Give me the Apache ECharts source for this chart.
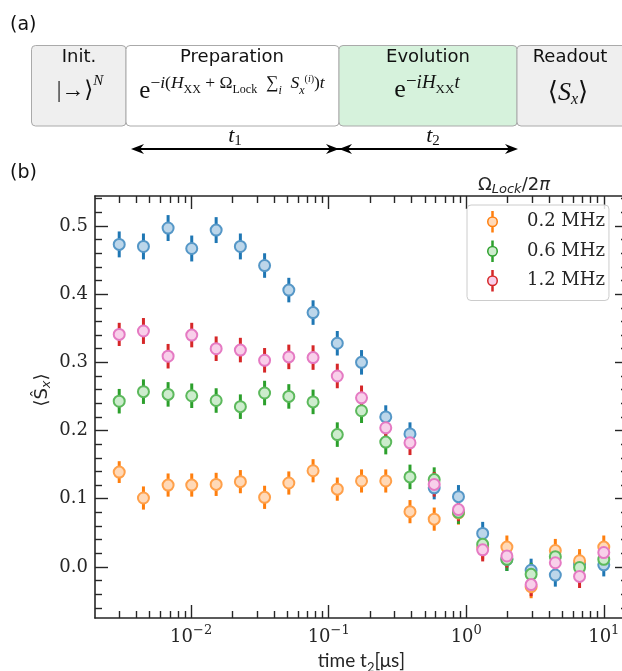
<!DOCTYPE html>
<html>
<head>
<meta charset="utf-8">
<script src="https://cdn.jsdelivr.net/npm/echarts@6/dist/echarts.min.js"></script>
<style>
html,body{margin:0;padding:0;background:#fff;}
#chart{width:622px;height:671px;}
</style>
</head>
<body>
<div id="chart"></div>
<script>
// ---- data ----
const tValues = [0.003, 0.0045, 0.0068, 0.0101, 0.0152, 0.0228, 0.0342, 0.0513, 0.0770, 0.1155, 0.1733,
                 0.260, 0.390, 0.585, 0.878, 1.317, 1.975, 2.963, 4.444, 6.667, 10.0];
const refValues = [0.473, 0.470, 0.497, 0.467, 0.494, 0.470, 0.442, 0.406, 0.373, 0.328, 0.300,
                   0.220, 0.195, 0.116, 0.103, 0.049, 0.011, -0.005, -0.012, 0.004, 0.003];
const refErr = [0.019, 0.019, 0.019, 0.019, 0.019, 0.019, 0.018, 0.018, 0.018, 0.018, 0.018,
                0.017, 0.017, 0.017, 0.017, 0.017, 0.017, 0.017, 0.017, 0.017, 0.017];
const lock02Values = [0.139, 0.101, 0.120, 0.120, 0.121, 0.125, 0.102, 0.123, 0.141, 0.114, 0.126,
                      0.126, 0.081, 0.070, 0.079, 0.028, 0.029, -0.029, 0.024, 0.009, 0.029];
const lock02Err = [0.016, 0.017, 0.017, 0.017, 0.017, 0.017, 0.017, 0.017, 0.017, 0.017, 0.017,
                   0.017, 0.017, 0.017, 0.017, 0.017, 0.017, 0.017, 0.017, 0.017, 0.017];
const lock06Values = [0.243, 0.257, 0.253, 0.251, 0.244, 0.235, 0.255, 0.250, 0.242, 0.194, 0.229,
                      0.183, 0.132, 0.128, 0.080, 0.033, 0.011, -0.011, 0.015, -0.001, 0.011];
const lock06Err = [0.018, 0.018, 0.018, 0.018, 0.018, 0.018, 0.018, 0.018, 0.018, 0.018, 0.018,
                   0.018, 0.018, 0.018, 0.017, 0.017, 0.017, 0.017, 0.017, 0.017, 0.017];
const lock12Values = [0.341, 0.346, 0.309, 0.340, 0.320, 0.318, 0.303, 0.308, 0.307, 0.280, 0.248,
                      0.204, 0.182, 0.121, 0.084, 0.025, 0.016, -0.026, 0.006, -0.014, 0.021];
const lock12Err = [0.017, 0.019, 0.018, 0.018, 0.018, 0.018, 0.018, 0.018, 0.018, 0.018, 0.018,
                   0.018, 0.018, 0.018, 0.017, 0.017, 0.017, 0.017, 0.017, 0.017, 0.017];
const legendNames = ['0.2 MHz', '0.6 MHz', '1.2 MHz'];
const xMajorTicks = [0.01, 0.1, 1, 10];
const xMinorTicks = [0.003, 0.004, 0.005, 0.006, 0.007, 0.008, 0.009,
                     0.02, 0.03, 0.04, 0.05, 0.06, 0.07, 0.08, 0.09,
                     0.2, 0.3, 0.4, 0.5, 0.6, 0.7, 0.8, 0.9,
                     2, 3, 4, 5, 6, 7, 8, 9];
const yMajorTicks = [0, 0.1, 0.2, 0.3, 0.4, 0.5];
const yMinorTicks = [-0.06, -0.04, -0.02, 0.02, 0.04, 0.06, 0.08, 0.12, 0.14, 0.16, 0.18,
                     0.22, 0.24, 0.26, 0.28, 0.32, 0.34, 0.36, 0.38, 0.42, 0.44, 0.46, 0.48, 0.52, 0.54];

// ---- styling ----
const AX = '#262626';
const SERIF = '"DejaVu Serif", serif';
const SANS = '"DejaVu Sans", sans-serif';
const MATH = '"Liberation Serif", "DejaVu Serif", serif';

const groups = [
  {name: 'ref',          vals: refValues,    err: refErr,    bar: '#1f77b4', face: '#bcd6ea', edge: '#5597c7'},
  {name: legendNames[0], vals: lock02Values, err: lock02Err, bar: '#ff7f0e', face: '#ffd9b8', edge: '#ffa04a'},
  {name: legendNames[1], vals: lock06Values, err: lock06Err, bar: '#2ca02c', face: '#cdeccd', edge: '#5cb95c'},
  {name: legendNames[2], vals: lock12Values, err: lock12Err, bar: '#d62728', face: '#f8d0ea', edge: '#e57ac3'}
];

const series = [];
groups.forEach(g => {
  series.push({
    name: g.name + ' err',
    type: 'custom',
    xAxisIndex: 0, yAxisIndex: 0,
    data: tValues.map((t, i) => [t, g.vals[i], g.err[i]]),
    encode: {x: 0, y: 1},
    silent: true,
    renderItem: function (params, api) {
      const x = api.value(0), y = api.value(1), e = api.value(2);
      const p1 = api.coord([x, y - e]);
      const p2 = api.coord([x, y + e]);
      return {type: 'line', shape: {x1: p1[0], y1: p1[1], x2: p2[0], y2: p2[1]},
              style: {stroke: g.bar, lineWidth: 3}};
    }
  });
  series.push({
    name: g.name,
    type: 'scatter',
    xAxisIndex: 0, yAxisIndex: 0,
    data: tValues.map((t, i) => [t, g.vals[i]]),
    symbol: 'circle',
    symbolSize: 11,
    itemStyle: {color: g.face, borderColor: g.edge, borderWidth: 2, opacity: 1},
    emphasis: {disabled: true},
    silent: true
  });
});

const iconPath = 'path://M10,0 L12,0 L12,10.5 L10,10.5 Z M10,29.5 L12,29.5 L12,40 L10,40 Z ' +
                 'M1.5,20 A9.5,9.5 0 1,1 20.5,20 A9.5,9.5 0 1,1 1.5,20 Z';

function supLabel(v) {
  const e = Math.round(Math.log10(v));
  return '{b|10}{s|' + (e < 0 ? '\u2212' + (-e) : e) + '}';
}

const xRange = {min: 0.002, max: 15.0};
const yRange = {min: -0.075, max: 0.544};

function xAx(pos, ticks, len, showLine, showLabel) {
  return {
    type: 'log', logBase: 10, position: pos, min: xRange.min, max: xRange.max,
    axisLine: {show: showLine, onZero: false, lineStyle: {color: AX, width: 1.6}},
    axisTick: {show: true, inside: true, length: len, customValues: ticks, lineStyle: {color: AX, width: 1.4}},
    axisLabel: showLabel ? {
      show: true, customValues: ticks, margin: 6, color: AX,
      formatter: supLabel,
      rich: {b: {fontFamily: SERIF, fontSize: 18, color: AX, lineHeight: 22, verticalAlign: 'bottom'},
             s: {fontFamily: SERIF, fontSize: 13, color: AX, lineHeight: 13, verticalAlign: 'top'}}
    } : {show: false},
    splitLine: {show: false}, minorTick: {show: false}, minorSplitLine: {show: false}
  };
}
function yAx(pos, ticks, len, showLine, showLabel) {
  return {
    type: 'value', position: pos, min: yRange.min, max: yRange.max,
    axisLine: {show: showLine, onZero: false, lineStyle: {color: AX, width: 1.6}},
    axisTick: {show: true, inside: true, length: len, customValues: ticks, lineStyle: {color: AX, width: 1.4}},
    axisLabel: showLabel ? {
      show: true, customValues: ticks, margin: 7, color: AX,
      fontFamily: SERIF, fontSize: 18,
      formatter: v => v.toFixed(1)
    } : {show: false},
    splitLine: {show: false}, minorTick: {show: false}, minorSplitLine: {show: false}
  };
}

const mathRich = function (base, sup, sub, subsup) {
  return {
    e: {fontFamily: MATH, fontSize: base, fill: '#111', lineHeight: 30, verticalAlign: 'bottom'},
    sp: {fontFamily: MATH, fontSize: sup, fill: '#111', lineHeight: sup + 1, verticalAlign: 'top'},
    si: {fontFamily: MATH, fontStyle: 'italic', fontSize: sup, fill: '#111', lineHeight: sup + 1, verticalAlign: 'top'},
    sb: {fontFamily: MATH, fontSize: sub, fill: '#111', lineHeight: sub, verticalAlign: 'top', padding: [10, 0, 0, 0]},
    sbi: {fontFamily: MATH, fontStyle: 'italic', fontSize: sub, fill: '#111', lineHeight: sub, verticalAlign: 'top', padding: [11, 0, 0, 0]},
    spp: {fontFamily: MATH, fontSize: subsup, fill: '#111', lineHeight: subsup, verticalAlign: 'top'},
    sppi: {fontFamily: MATH, fontStyle: 'italic', fontSize: subsup, fill: '#111', lineHeight: subsup, verticalAlign: 'top'}
  };
};

const option = {
  backgroundColor: '#fff',
  animation: false,
  grid: {left: 95, right: -6, top: 196, bottom: 53, outerBoundsMode: 'none', containLabel: false},
  xAxis: [
    Object.assign(xAx('bottom', xMajorTicks, 13, true, true), {
      name: '{n|time t}{sub|2}{n|[μs]}', nameLocation: 'middle', nameGap: 31,
      nameTextStyle: {rich: {
        n: {fontFamily: 'Lato, "Open Sans", sans-serif', fontSize: 19, color: AX, lineHeight: 24, verticalAlign: 'top'},
        sub: {fontFamily: 'Lato, "Open Sans", sans-serif', fontSize: 13, color: AX, lineHeight: 13, verticalAlign: 'top', padding: [10, 0, 0, 0]}
      }}
    }),
    xAx('bottom', xMinorTicks, 7, false, false),
    xAx('top', xMajorTicks, 13, true, false),
    xAx('top', xMinorTicks, 7, false, false)
  ],
  yAxis: [
    yAx('left', yMajorTicks, 13, true, true),
    yAx('left', yMinorTicks, 7, false, false),
    yAx('right', yMajorTicks, 13, true, false),
    yAx('right', yMinorTicks, 7, false, false)
  ],
  legend: {
    data: groups.slice(1).map(g => ({
      name: g.name, icon: iconPath,
      itemStyle: {color: g.face, borderColor: g.bar, borderWidth: 1.5}
    })),
    orient: 'vertical', left: 467, top: 205,
    itemWidth: 11, itemHeight: 20, itemGap: 8,
    padding: [6, 4, 9, 20],
    borderColor: '#cccccc', borderWidth: 1, borderRadius: 4,
    backgroundColor: 'rgba(255,255,255,0.85)',
    selectedMode: false,
    textStyle: {fontFamily: SERIF, fontSize: 18, color: AX, padding: [0, 0, 0, 24]}
  },
  series: series,
  graphic: [
    {type: 'text', left: 10, top: 16, style: {text: '(a)', font: '19px "DejaVu Sans"', fill: '#111'}},
    {type: 'text', left: 10, top: 164, style: {text: '(b)', font: '19px "DejaVu Sans"', fill: '#111'}},
    // panel (a) boxes
    {type: 'rect', shape: {x: 31.5, y: 45.5, width: 94.5, height: 80.5, r: 4}, style: {fill: '#efefef', stroke: '#aaaaaa', lineWidth: 1}},
    {type: 'rect', shape: {x: 126, y: 45.5, width: 213, height: 80.5, r: 4}, style: {fill: '#ffffff', stroke: '#aaaaaa', lineWidth: 1}},
    {type: 'rect', shape: {x: 339, y: 45.5, width: 178, height: 80.5, r: 4}, style: {fill: '#d6f2dc', stroke: '#aaaaaa', lineWidth: 1}},
    {type: 'rect', shape: {x: 517, y: 45.5, width: 130, height: 80.5, r: 4}, style: {fill: '#efefef', stroke: '#aaaaaa', lineWidth: 1}},
    {type: 'text', x: 79, y: 57, style: {text: 'Init.', font: '18px "DejaVu Sans"', fill: '#111', align: 'center', verticalAlign: 'middle'}},
    {type: 'text', x: 232, y: 57, style: {text: 'Preparation', font: '18px "DejaVu Sans"', fill: '#111', align: 'center', verticalAlign: 'middle'}},
    {type: 'text', x: 428, y: 57, style: {text: 'Evolution', font: '18px "DejaVu Sans"', fill: '#111', align: 'center', verticalAlign: 'middle'}},
    {type: 'text', x: 570, y: 57, style: {text: 'Readout', font: '18px "DejaVu Sans"', fill: '#111', align: 'center', verticalAlign: 'middle'}},
    // formulas
    {type: 'text', x: 80, y: 88, style: {
      text: '{b||→⟩}{s|N}', align: 'center', verticalAlign: 'middle',
      rich: {b: {fontFamily: MATH, fontSize: 23, fill: '#111', lineHeight: 28, verticalAlign: 'bottom'},
             s: {fontFamily: MATH, fontStyle: 'italic', fontSize: 15, fill: '#111', lineHeight: 15, verticalAlign: 'top'}}
    }},
    {type: 'text', x: 232, y: 89, style: {
      text: '{e|e}{sp|−}{si|i}{sp|(}{si|H}{sb|XX}{sp| + Ω}{sb|Lock}{sp|  ∑}{sbi|i}{si|  S}{sbi|x}{spp|(}{sppi|i}{spp|)}{sp|)}{si|t}',
      align: 'center', verticalAlign: 'middle',
      rich: mathRich(25, 17.5, 12, 10)
    }},
    {type: 'text', x: 427, y: 88, style: {
      text: '{e|e}{sp|−}{si|iH}{sb|XX}{si|t}', align: 'center', verticalAlign: 'middle',
      rich: mathRich(26, 19, 13, 10)
    }},
    {type: 'text', x: 568, y: 93, style: {
      text: '{b|⟨}{i|S}{sb|x}{b|⟩}', align: 'center', verticalAlign: 'middle',
      rich: {
        b: {fontFamily: MATH, fontSize: 26, fill: '#111', lineHeight: 30},
        i: {fontFamily: MATH, fontStyle: 'italic', fontSize: 26, fill: '#111', lineHeight: 30},
        sb: {fontFamily: MATH, fontStyle: 'italic', fontSize: 16, fill: '#111', lineHeight: 16, verticalAlign: 'bottom'}
      }
    }},
    // time arrows
    {type: 'line', shape: {x1: 136, y1: 149, x2: 513, y2: 149}, style: {stroke: '#000', lineWidth: 2}},
    {type: 'polygon', shape: {points: [[131, 149], [144, 144], [140, 149], [144, 154]]}, style: {fill: '#000'}},
    {type: 'polygon', shape: {points: [[339, 149], [326, 144], [330, 149], [326, 154]]}, style: {fill: '#000'}},
    {type: 'polygon', shape: {points: [[339, 149], [352, 144], [348, 149], [352, 154]]}, style: {fill: '#000'}},
    {type: 'polygon', shape: {points: [[518, 149], [505, 144], [509, 149], [505, 154]]}, style: {fill: '#000'}},
    {type: 'text', x: 235, y: 137, style: {
      text: '{i|t}{s|1}', align: 'center', verticalAlign: 'middle',
      rich: {i: {fontFamily: MATH, fontStyle: 'italic', fontSize: 22, fill: '#111', lineHeight: 24, verticalAlign: 'top'},
             s: {fontFamily: MATH, fontSize: 15, fill: '#111', lineHeight: 14, verticalAlign: 'bottom'}}
    }},
    {type: 'text', x: 433, y: 137, style: {
      text: '{i|t}{s|2}', align: 'center', verticalAlign: 'middle',
      rich: {i: {fontFamily: MATH, fontStyle: 'italic', fontSize: 22, fill: '#111', lineHeight: 24, verticalAlign: 'top'},
             s: {fontFamily: MATH, fontSize: 15, fill: '#111', lineHeight: 14, verticalAlign: 'bottom'}}
    }},
    // y-axis label
    {type: 'text', x: 42, y: 390, rotation: Math.PI / 2, style: {
      text: '{b|⟨Ŝ}{s|x}{b|⟩}', align: 'center', verticalAlign: 'middle',
      rich: {b: {fontFamily: SANS, fontSize: 18, fill: AX, lineHeight: 22},
             s: {fontFamily: SANS, fontStyle: 'italic', fontSize: 13, fill: AX, lineHeight: 13, verticalAlign: 'bottom'}}
    }},
    // legend title
    {type: 'text', x: 514, y: 185, style: {
      text: '{b|Ω}{s|Lock}{b|/2}{i|π}', align: 'center', verticalAlign: 'middle',
      rich: {b: {fontFamily: SANS, fontSize: 18, fill: AX, lineHeight: 22},
             i: {fontFamily: SANS, fontStyle: 'italic', fontSize: 18, fill: AX, lineHeight: 22},
             s: {fontFamily: SANS, fontStyle: 'italic', fontSize: 13, fill: AX, lineHeight: 13, verticalAlign: 'bottom'}}
    }}
  ]
};

const chart = echarts.init(document.getElementById('chart'), null, {renderer: 'canvas'});
chart.setOption(option);
</script>
</body>
</html>
